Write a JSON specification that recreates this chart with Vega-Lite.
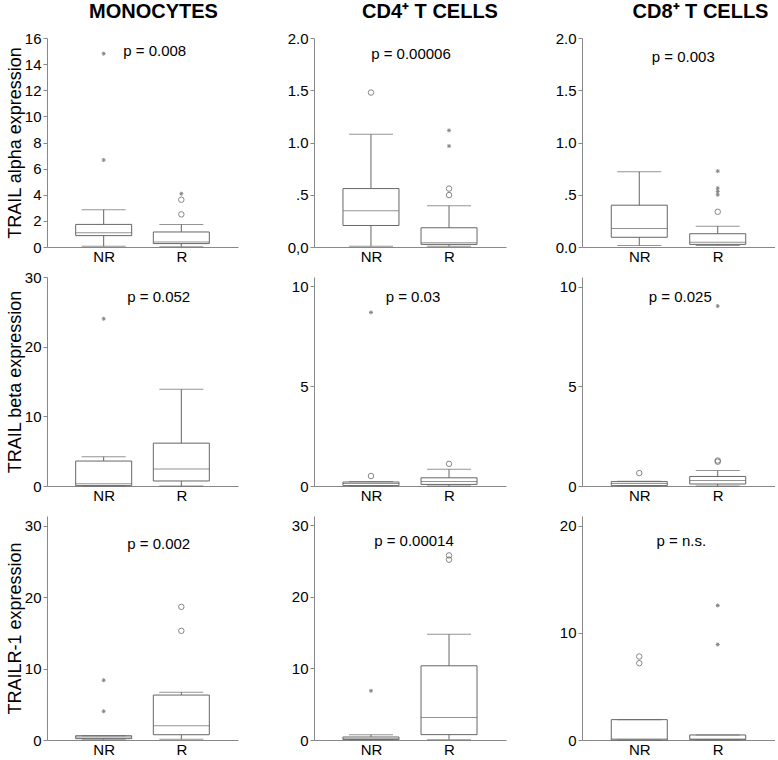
{
"$schema":"https://vega.github.io/schema/vega-lite/v6.json",
"background":"white",
"padding":{"left":6,"top":2,"right":0,"bottom":0},
"datasets":{
"boxes":[
{"panel":"A","g":"NR","lo":0.05,"q1":0.87,"med":1.10,"q3":1.73,"hi":2.86},
{"panel":"A","g":"R","lo":0.02,"q1":0.26,"med":0.38,"q3":1.15,"hi":1.73},
{"panel":"B","g":"NR","lo":0.006,"q1":0.206,"med":0.347,"q3":0.559,"hi":1.078},
{"panel":"B","g":"R","lo":0.006,"q1":0.025,"med":0.041,"q3":0.184,"hi":0.394},
{"panel":"C","g":"NR","lo":0.015,"q1":0.093,"med":0.176,"q3":0.40,"hi":0.72},
{"panel":"C","g":"R","lo":0.015,"q1":0.025,"med":0.046,"q3":0.127,"hi":0.198},
{"panel":"D","g":"NR","lo":0,"q1":0.05,"med":0.33,"q3":3.58,"hi":4.2},
{"panel":"D","g":"R","lo":0,"q1":0.72,"med":2.43,"q3":6.15,"hi":13.9},
{"panel":"E","g":"NR","lo":0,"q1":0.02,"med":0.12,"q3":0.2,"hi":0.22},
{"panel":"E","g":"R","lo":0,"q1":0.08,"med":0.23,"q3":0.41,"hi":0.84},
{"panel":"F","g":"NR","lo":0,"q1":0.02,"med":0.13,"q3":0.22,"hi":0.24},
{"panel":"F","g":"R","lo":0,"q1":0.1,"med":0.28,"q3":0.48,"hi":0.78},
{"panel":"G","g":"NR","lo":0.05,"q1":0.19,"med":0.42,"q3":0.6,"hi":0.6},
{"panel":"G","g":"R","lo":0.09,"q1":0.74,"med":1.99,"q3":6.30,"hi":6.71},
{"panel":"H","g":"NR","lo":0.02,"q1":0.05,"med":0.19,"q3":0.42,"hi":0.75},
{"panel":"H","g":"R","lo":0.05,"q1":0.75,"med":3.13,"q3":10.37,"hi":14.77},
{"panel":"I","g":"NR","lo":0,"q1":0,"med":0.09,"q3":1.9,"hi":1.9},
{"panel":"I","g":"R","lo":0,"q1":0.03,"med":0.09,"q3":0.47,"hi":0.47}
],
"outs":[
{"panel":"A","g":"NR","v":14.8,"kind":"star"},
{"panel":"A","g":"NR","v":6.66,"kind":"star"},
{"panel":"A","g":"R","v":4.08,"kind":"star"},
{"panel":"A","g":"R","v":3.62,"kind":"circle"},
{"panel":"A","g":"R","v":2.5,"kind":"circle"},
{"panel":"B","g":"NR","v":1.478,"kind":"circle"},
{"panel":"B","g":"R","v":1.116,"kind":"star"},
{"panel":"B","g":"R","v":0.966,"kind":"star"},
{"panel":"B","g":"R","v":0.559,"kind":"circle"},
{"panel":"B","g":"R","v":0.497,"kind":"circle"},
{"panel":"C","g":"R","v":0.726,"kind":"star"},
{"panel":"C","g":"R","v":0.563,"kind":"star"},
{"panel":"C","g":"R","v":0.532,"kind":"star"},
{"panel":"C","g":"R","v":0.50,"kind":"star"},
{"panel":"C","g":"R","v":0.337,"kind":"circle"},
{"panel":"D","g":"NR","v":24.0,"kind":"star"},
{"panel":"E","g":"NR","v":0.5,"kind":"circle"},
{"panel":"E","g":"NR","v":8.68,"kind":"star"},
{"panel":"E","g":"R","v":1.11,"kind":"circle"},
{"panel":"F","g":"NR","v":0.65,"kind":"circle"},
{"panel":"F","g":"R","v":1.22,"kind":"circle"},
{"panel":"F","g":"R","v":1.28,"kind":"circle"},
{"panel":"F","g":"R","v":9.04,"kind":"star"},
{"panel":"G","g":"NR","v":8.38,"kind":"star"},
{"panel":"G","g":"NR","v":4.03,"kind":"star"},
{"panel":"G","g":"R","v":18.66,"kind":"circle"},
{"panel":"G","g":"R","v":15.3,"kind":"circle"},
{"panel":"H","g":"NR","v":6.87,"kind":"star"},
{"panel":"H","g":"R","v":25.8,"kind":"circle"},
{"panel":"H","g":"R","v":25.2,"kind":"circle"},
{"panel":"I","g":"NR","v":7.79,"kind":"circle"},
{"panel":"I","g":"NR","v":7.17,"kind":"circle"},
{"panel":"I","g":"R","v":12.55,"kind":"star"},
{"panel":"I","g":"R","v":8.91,"kind":"star"}
],
"pv":[
{"panel":"A","label":"p = 0.008"},
{"panel":"B","label":"p = 0.00006"},
{"panel":"C","label":"p = 0.003"},
{"panel":"D","label":"p = 0.052"},
{"panel":"E","label":"p = 0.03"},
{"panel":"F","label":"p = 0.025"},
{"panel":"G","label":"p = 0.002"},
{"panel":"H","label":"p = 0.00014"},
{"panel":"I","label":"p = n.s."}
]
},
"columns":3,
"spacing":{"row":30,"column":76},
"bounds":"flush",
"align":"each",
"concat":[
{"width":191,"height":209,
 "title":{"text":"MONOCYTES","dx":11,"fontSize":20,"fontWeight":"bold","offset":9,"anchor":"middle"},
 "layer":[
 {"data":{"name":"boxes"},"transform":[{"filter":"datum.panel=='A'"}],"mark":{"type":"rule","color":"#666"},
  "encoding":{"x":{"field":"g","type":"nominal","scale":{"type":"point","domain":["NR","R"],"padding":0.73},"axis":{"title":null,"ticks":false,"labelAngle":0,"labelFontSize":15,"labelPadding":2}},
   "y":{"field":"lo","type":"quantitative","scale":{"domain":[0,16],"nice":false,"zero":false},"axis":{"values":[0,2,4,6,8,10,12,14,16],"tickCount":9,"labelOverlap":false,"labelBound":false,"labelSeparation":0,"title":"TRAIL alpha expression","titlePadding":0,"minExtent":23,"maxExtent":23}},"y2":{"field":"hi"}}},
 {"data":{"name":"boxes"},"transform":[{"filter":"datum.panel=='A'"}],"mark":{"type":"bar","fill":"white","stroke":"#666","strokeWidth":1,"size":56},
  "encoding":{"x":{"field":"g","type":"nominal"},"y":{"field":"q1","type":"quantitative","title":"TRAIL alpha expression","axis":{"values":[0,2,4,6,8,10,12,14,16],"labelOverlap":false}},"y2":{"field":"q3"}}},
 {"data":{"name":"boxes"},"transform":[{"filter":"datum.panel=='A'"}],"mark":{"type":"tick","color":"#666","size":56,"thickness":1},
  "encoding":{"x":{"field":"g","type":"nominal"},"y":{"field":"med","type":"quantitative","title":"TRAIL alpha expression","axis":{"values":[0,2,4,6,8,10,12,14,16],"labelOverlap":false}}}},
 {"data":{"name":"boxes"},"transform":[{"filter":"datum.panel=='A'"}],"mark":{"type":"tick","color":"#666","size":44,"thickness":1},
  "encoding":{"x":{"field":"g","type":"nominal"},"y":{"field":"lo","type":"quantitative","title":"TRAIL alpha expression","axis":{"values":[0,2,4,6,8,10,12,14,16],"labelOverlap":false}}}},
 {"data":{"name":"boxes"},"transform":[{"filter":"datum.panel=='A'"}],"mark":{"type":"tick","color":"#666","size":44,"thickness":1},
  "encoding":{"x":{"field":"g","type":"nominal"},"y":{"field":"hi","type":"quantitative","title":"TRAIL alpha expression","axis":{"values":[0,2,4,6,8,10,12,14,16],"labelOverlap":false}}}},
 {"data":{"name":"outs"},"transform":[{"filter":"datum.panel=='A'"}],"mark":{"type":"point","filled":false,"stroke":"#555","strokeWidth":1},
  "encoding":{"x":{"field":"g","type":"nominal"},"y":{"field":"v","type":"quantitative","title":"TRAIL alpha expression","axis":{"values":[0,2,4,6,8,10,12,14,16],"labelOverlap":false}},
   "shape":{"field":"kind","type":"nominal","scale":{"domain":["circle","star"],"range":["circle","M-1,0L1,0M0,-1L0,1M-0.7,-0.7L0.7,0.7M-0.7,0.7L0.7,-0.7"]},"legend":null},
   "size":{"field":"kind","type":"nominal","scale":{"domain":["circle","star"],"range":[30,16]},"legend":null}}},
 {"data":{"name":"pv"},"transform":[{"filter":"datum.panel=='A'"}],"mark":{"type":"text","fontSize":15,"dx":51,"color":"#000"},
  "encoding":{"x":{"datum":"NR","type":"nominal"},"y":{"datum":15.0,"type":"quantitative","title":"TRAIL alpha expression","axis":{"values":[0,2,4,6,8,10,12,14,16],"labelOverlap":false}},"text":{"field":"label"}}}
 ]},
{"width":192,"height":209,
 "title":{"text":"CD4⁺ T CELLS","dx":20,"fontSize":20,"fontWeight":"bold","offset":9,"anchor":"middle"},
 "layer":[
 {"data":{"name":"boxes"},"transform":[{"filter":"datum.panel=='B'"}],"mark":{"type":"rule","color":"#666"},
  "encoding":{"x":{"field":"g","type":"nominal","scale":{"type":"point","domain":["NR","R"],"padding":0.73},"axis":{"title":null,"ticks":false,"labelAngle":0,"labelFontSize":15,"labelPadding":2}},
   "y":{"field":"lo","type":"quantitative","scale":{"domain":[0,2],"nice":false,"zero":false},"axis":{"values":[0,0.5,1,1.5,2],"labelOverlap":false,"labelExpr":"datum.value==0?'0,0':datum.value==0.5?'.5':format(datum.value,'.1f')","title":null}},"y2":{"field":"hi"}}},
 {"data":{"name":"boxes"},"transform":[{"filter":"datum.panel=='B'"}],"mark":{"type":"bar","fill":"white","stroke":"#666","strokeWidth":1,"size":56},
  "encoding":{"x":{"field":"g","type":"nominal"},"y":{"field":"q1","type":"quantitative","title":null},"y2":{"field":"q3"}}},
 {"data":{"name":"boxes"},"transform":[{"filter":"datum.panel=='B'"}],"mark":{"type":"tick","color":"#666","size":56,"thickness":1},
  "encoding":{"x":{"field":"g","type":"nominal"},"y":{"field":"med","type":"quantitative","title":null}}},
 {"data":{"name":"boxes"},"transform":[{"filter":"datum.panel=='B'"}],"mark":{"type":"tick","color":"#666","size":44,"thickness":1},
  "encoding":{"x":{"field":"g","type":"nominal"},"y":{"field":"lo","type":"quantitative","title":null}}},
 {"data":{"name":"boxes"},"transform":[{"filter":"datum.panel=='B'"}],"mark":{"type":"tick","color":"#666","size":44,"thickness":1},
  "encoding":{"x":{"field":"g","type":"nominal"},"y":{"field":"hi","type":"quantitative","title":null}}},
 {"data":{"name":"outs"},"transform":[{"filter":"datum.panel=='B'"}],"mark":{"type":"point","filled":false,"stroke":"#555","strokeWidth":1},
  "encoding":{"x":{"field":"g","type":"nominal"},"y":{"field":"v","type":"quantitative","title":null},
   "shape":{"field":"kind","type":"nominal","scale":{"domain":["circle","star"],"range":["circle","M-1,0L1,0M0,-1L0,1M-0.7,-0.7L0.7,0.7M-0.7,0.7L0.7,-0.7"]},"legend":null},
   "size":{"field":"kind","type":"nominal","scale":{"domain":["circle","star"],"range":[30,16]},"legend":null}}},
 {"data":{"name":"pv"},"transform":[{"filter":"datum.panel=='B'"}],"mark":{"type":"text","fontSize":15,"dx":40,"color":"#000"},
  "encoding":{"x":{"datum":"NR","type":"nominal"},"y":{"datum":1.85,"type":"quantitative","title":null},"text":{"field":"label"}}}
 ]},
{"width":193,"height":209,
 "title":{"text":"CD8⁺ T CELLS","dx":22,"fontSize":20,"fontWeight":"bold","offset":9,"anchor":"middle"},
 "layer":[
 {"data":{"name":"boxes"},"transform":[{"filter":"datum.panel=='C'"}],"mark":{"type":"rule","color":"#666"},
  "encoding":{"x":{"field":"g","type":"nominal","scale":{"type":"point","domain":["NR","R"],"padding":0.73},"axis":{"title":null,"ticks":false,"labelAngle":0,"labelFontSize":15,"labelPadding":2}},
   "y":{"field":"lo","type":"quantitative","scale":{"domain":[0,2],"nice":false,"zero":false},"axis":{"values":[0,0.5,1,1.5,2],"labelOverlap":false,"labelExpr":"datum.value==0.5?'.5':format(datum.value,'.1f')","title":null}},"y2":{"field":"hi"}}},
 {"data":{"name":"boxes"},"transform":[{"filter":"datum.panel=='C'"}],"mark":{"type":"bar","fill":"white","stroke":"#666","strokeWidth":1,"size":56},
  "encoding":{"x":{"field":"g","type":"nominal"},"y":{"field":"q1","type":"quantitative","title":null},"y2":{"field":"q3"}}},
 {"data":{"name":"boxes"},"transform":[{"filter":"datum.panel=='C'"}],"mark":{"type":"tick","color":"#666","size":56,"thickness":1},
  "encoding":{"x":{"field":"g","type":"nominal"},"y":{"field":"med","type":"quantitative","title":null}}},
 {"data":{"name":"boxes"},"transform":[{"filter":"datum.panel=='C'"}],"mark":{"type":"tick","color":"#666","size":44,"thickness":1},
  "encoding":{"x":{"field":"g","type":"nominal"},"y":{"field":"lo","type":"quantitative","title":null}}},
 {"data":{"name":"boxes"},"transform":[{"filter":"datum.panel=='C'"}],"mark":{"type":"tick","color":"#666","size":44,"thickness":1},
  "encoding":{"x":{"field":"g","type":"nominal"},"y":{"field":"hi","type":"quantitative","title":null}}},
 {"data":{"name":"outs"},"transform":[{"filter":"datum.panel=='C'"}],"mark":{"type":"point","filled":false,"stroke":"#555","strokeWidth":1},
  "encoding":{"x":{"field":"g","type":"nominal"},"y":{"field":"v","type":"quantitative","title":null},
   "shape":{"field":"kind","type":"nominal","scale":{"domain":["circle","star"],"range":["circle","M-1,0L1,0M0,-1L0,1M-0.7,-0.7L0.7,0.7M-0.7,0.7L0.7,-0.7"]},"legend":null},
   "size":{"field":"kind","type":"nominal","scale":{"domain":["circle","star"],"range":[30,16]},"legend":null}}},
 {"data":{"name":"pv"},"transform":[{"filter":"datum.panel=='C'"}],"mark":{"type":"text","fontSize":15,"dx":44,"color":"#000"},
  "encoding":{"x":{"datum":"NR","type":"nominal"},"y":{"datum":1.82,"type":"quantitative","title":null},"text":{"field":"label"}}}
 ]},
{"width":191,"height":209,
 "layer":[
 {"data":{"name":"boxes"},"transform":[{"filter":"datum.panel=='D'"}],"mark":{"type":"rule","color":"#666"},
  "encoding":{"x":{"field":"g","type":"nominal","scale":{"type":"point","domain":["NR","R"],"padding":0.73},"axis":{"title":null,"ticks":false,"labelAngle":0,"labelFontSize":15,"labelPadding":2}},
   "y":{"field":"lo","type":"quantitative","scale":{"domain":[0,30],"nice":false,"zero":false},"axis":{"values":[0,10,20,30],"labelOverlap":false,"title":"TRAIL beta expression","titlePadding":0,"minExtent":23,"maxExtent":23}},"y2":{"field":"hi"}}},
 {"data":{"name":"boxes"},"transform":[{"filter":"datum.panel=='D'"}],"mark":{"type":"bar","fill":"white","stroke":"#666","strokeWidth":1,"size":56},
  "encoding":{"x":{"field":"g","type":"nominal"},"y":{"field":"q1","type":"quantitative","title":"TRAIL beta expression"},"y2":{"field":"q3"}}},
 {"data":{"name":"boxes"},"transform":[{"filter":"datum.panel=='D'"}],"mark":{"type":"tick","color":"#666","size":56,"thickness":1},
  "encoding":{"x":{"field":"g","type":"nominal"},"y":{"field":"med","type":"quantitative","title":"TRAIL beta expression"}}},
 {"data":{"name":"boxes"},"transform":[{"filter":"datum.panel=='D'"}],"mark":{"type":"tick","color":"#666","size":44,"thickness":1},
  "encoding":{"x":{"field":"g","type":"nominal"},"y":{"field":"lo","type":"quantitative","title":"TRAIL beta expression"}}},
 {"data":{"name":"boxes"},"transform":[{"filter":"datum.panel=='D'"}],"mark":{"type":"tick","color":"#666","size":44,"thickness":1},
  "encoding":{"x":{"field":"g","type":"nominal"},"y":{"field":"hi","type":"quantitative","title":"TRAIL beta expression"}}},
 {"data":{"name":"outs"},"transform":[{"filter":"datum.panel=='D'"}],"mark":{"type":"point","filled":false,"stroke":"#555","strokeWidth":1},
  "encoding":{"x":{"field":"g","type":"nominal"},"y":{"field":"v","type":"quantitative","title":"TRAIL beta expression"},
   "shape":{"field":"kind","type":"nominal","scale":{"domain":["circle","star"],"range":["circle","M-1,0L1,0M0,-1L0,1M-0.7,-0.7L0.7,0.7M-0.7,0.7L0.7,-0.7"]},"legend":null},
   "size":{"field":"kind","type":"nominal","scale":{"domain":["circle","star"],"range":[30,16]},"legend":null}}},
 {"data":{"name":"pv"},"transform":[{"filter":"datum.panel=='D'"}],"mark":{"type":"text","fontSize":15,"dx":55,"color":"#000"},
  "encoding":{"x":{"datum":"NR","type":"nominal"},"y":{"datum":27.1,"type":"quantitative","title":"TRAIL beta expression"},"text":{"field":"label"}}}
 ]},
{"width":192,"height":209,
 "layer":[
 {"data":{"name":"boxes"},"transform":[{"filter":"datum.panel=='E'"}],"mark":{"type":"rule","color":"#666"},
  "encoding":{"x":{"field":"g","type":"nominal","scale":{"type":"point","domain":["NR","R"],"padding":0.73},"axis":{"title":null,"ticks":false,"labelAngle":0,"labelFontSize":15,"labelPadding":2}},
   "y":{"field":"lo","type":"quantitative","scale":{"domain":[0,10.45],"nice":false,"zero":false},"axis":{"values":[0,5,10],"labelOverlap":false,"title":null}},"y2":{"field":"hi"}}},
 {"data":{"name":"boxes"},"transform":[{"filter":"datum.panel=='E'"}],"mark":{"type":"bar","fill":"white","stroke":"#666","strokeWidth":1,"size":56},
  "encoding":{"x":{"field":"g","type":"nominal"},"y":{"field":"q1","type":"quantitative","title":null},"y2":{"field":"q3"}}},
 {"data":{"name":"boxes"},"transform":[{"filter":"datum.panel=='E'"}],"mark":{"type":"tick","color":"#666","size":56,"thickness":1},
  "encoding":{"x":{"field":"g","type":"nominal"},"y":{"field":"med","type":"quantitative","title":null}}},
 {"data":{"name":"boxes"},"transform":[{"filter":"datum.panel=='E'"}],"mark":{"type":"tick","color":"#666","size":44,"thickness":1},
  "encoding":{"x":{"field":"g","type":"nominal"},"y":{"field":"lo","type":"quantitative","title":null}}},
 {"data":{"name":"boxes"},"transform":[{"filter":"datum.panel=='E'"}],"mark":{"type":"tick","color":"#666","size":44,"thickness":1},
  "encoding":{"x":{"field":"g","type":"nominal"},"y":{"field":"hi","type":"quantitative","title":null}}},
 {"data":{"name":"outs"},"transform":[{"filter":"datum.panel=='E'"}],"mark":{"type":"point","filled":false,"stroke":"#555","strokeWidth":1},
  "encoding":{"x":{"field":"g","type":"nominal"},"y":{"field":"v","type":"quantitative","title":null},
   "shape":{"field":"kind","type":"nominal","scale":{"domain":["circle","star"],"range":["circle","M-1,0L1,0M0,-1L0,1M-0.7,-0.7L0.7,0.7M-0.7,0.7L0.7,-0.7"]},"legend":null},
   "size":{"field":"kind","type":"nominal","scale":{"domain":["circle","star"],"range":[30,16]},"legend":null}}},
 {"data":{"name":"pv"},"transform":[{"filter":"datum.panel=='E'"}],"mark":{"type":"text","fontSize":15,"dx":42,"color":"#000"},
  "encoding":{"x":{"datum":"NR","type":"nominal"},"y":{"datum":9.45,"type":"quantitative","title":null},"text":{"field":"label"}}}
 ]},
{"width":193,"height":209,
 "layer":[
 {"data":{"name":"boxes"},"transform":[{"filter":"datum.panel=='F'"}],"mark":{"type":"rule","color":"#666"},
  "encoding":{"x":{"field":"g","type":"nominal","scale":{"type":"point","domain":["NR","R"],"padding":0.73},"axis":{"title":null,"ticks":false,"labelAngle":0,"labelFontSize":15,"labelPadding":2}},
   "y":{"field":"lo","type":"quantitative","scale":{"domain":[0,10.5],"nice":false,"zero":false},"axis":{"values":[0,5,10],"labelOverlap":false,"title":null}},"y2":{"field":"hi"}}},
 {"data":{"name":"boxes"},"transform":[{"filter":"datum.panel=='F'"}],"mark":{"type":"bar","fill":"white","stroke":"#666","strokeWidth":1,"size":56},
  "encoding":{"x":{"field":"g","type":"nominal"},"y":{"field":"q1","type":"quantitative","title":null},"y2":{"field":"q3"}}},
 {"data":{"name":"boxes"},"transform":[{"filter":"datum.panel=='F'"}],"mark":{"type":"tick","color":"#666","size":56,"thickness":1},
  "encoding":{"x":{"field":"g","type":"nominal"},"y":{"field":"med","type":"quantitative","title":null}}},
 {"data":{"name":"boxes"},"transform":[{"filter":"datum.panel=='F'"}],"mark":{"type":"tick","color":"#666","size":44,"thickness":1},
  "encoding":{"x":{"field":"g","type":"nominal"},"y":{"field":"lo","type":"quantitative","title":null}}},
 {"data":{"name":"boxes"},"transform":[{"filter":"datum.panel=='F'"}],"mark":{"type":"tick","color":"#666","size":44,"thickness":1},
  "encoding":{"x":{"field":"g","type":"nominal"},"y":{"field":"hi","type":"quantitative","title":null}}},
 {"data":{"name":"outs"},"transform":[{"filter":"datum.panel=='F'"}],"mark":{"type":"point","filled":false,"stroke":"#555","strokeWidth":1},
  "encoding":{"x":{"field":"g","type":"nominal"},"y":{"field":"v","type":"quantitative","title":null},
   "shape":{"field":"kind","type":"nominal","scale":{"domain":["circle","star"],"range":["circle","M-1,0L1,0M0,-1L0,1M-0.7,-0.7L0.7,0.7M-0.7,0.7L0.7,-0.7"]},"legend":null},
   "size":{"field":"kind","type":"nominal","scale":{"domain":["circle","star"],"range":[30,16]},"legend":null}}},
 {"data":{"name":"pv"},"transform":[{"filter":"datum.panel=='F'"}],"mark":{"type":"text","fontSize":15,"dx":41,"color":"#000"},
  "encoding":{"x":{"datum":"NR","type":"nominal"},"y":{"datum":9.5,"type":"quantitative","title":null},"text":{"field":"label"}}}
 ]},
{"width":191,"height":224,
 "layer":[
 {"data":{"name":"boxes"},"transform":[{"filter":"datum.panel=='G'"}],"mark":{"type":"rule","color":"#666"},
  "encoding":{"x":{"field":"g","type":"nominal","scale":{"type":"point","domain":["NR","R"],"padding":0.73},"axis":{"title":null,"ticks":false,"labelAngle":0,"labelFontSize":15,"labelPadding":2}},
   "y":{"field":"lo","type":"quantitative","scale":{"domain":[0,31.4],"nice":false,"zero":false},"axis":{"values":[0,10,20,30],"labelOverlap":false,"title":"TRAILR-1 expression","titlePadding":0,"minExtent":23,"maxExtent":23}},"y2":{"field":"hi"}}},
 {"data":{"name":"boxes"},"transform":[{"filter":"datum.panel=='G'"}],"mark":{"type":"bar","fill":"white","stroke":"#666","strokeWidth":1,"size":56},
  "encoding":{"x":{"field":"g","type":"nominal"},"y":{"field":"q1","type":"quantitative","title":"TRAILR-1 expression"},"y2":{"field":"q3"}}},
 {"data":{"name":"boxes"},"transform":[{"filter":"datum.panel=='G'"}],"mark":{"type":"tick","color":"#666","size":56,"thickness":1},
  "encoding":{"x":{"field":"g","type":"nominal"},"y":{"field":"med","type":"quantitative","title":"TRAILR-1 expression"}}},
 {"data":{"name":"boxes"},"transform":[{"filter":"datum.panel=='G'"}],"mark":{"type":"tick","color":"#666","size":44,"thickness":1},
  "encoding":{"x":{"field":"g","type":"nominal"},"y":{"field":"lo","type":"quantitative","title":"TRAILR-1 expression"}}},
 {"data":{"name":"boxes"},"transform":[{"filter":"datum.panel=='G'"}],"mark":{"type":"tick","color":"#666","size":44,"thickness":1},
  "encoding":{"x":{"field":"g","type":"nominal"},"y":{"field":"hi","type":"quantitative","title":"TRAILR-1 expression"}}},
 {"data":{"name":"outs"},"transform":[{"filter":"datum.panel=='G'"}],"mark":{"type":"point","filled":false,"stroke":"#555","strokeWidth":1},
  "encoding":{"x":{"field":"g","type":"nominal"},"y":{"field":"v","type":"quantitative","title":"TRAILR-1 expression"},
   "shape":{"field":"kind","type":"nominal","scale":{"domain":["circle","star"],"range":["circle","M-1,0L1,0M0,-1L0,1M-0.7,-0.7L0.7,0.7M-0.7,0.7L0.7,-0.7"]},"legend":null},
   "size":{"field":"kind","type":"nominal","scale":{"domain":["circle","star"],"range":[30,16]},"legend":null}}},
 {"data":{"name":"pv"},"transform":[{"filter":"datum.panel=='G'"}],"mark":{"type":"text","fontSize":15,"dx":55,"color":"#000"},
  "encoding":{"x":{"datum":"NR","type":"nominal"},"y":{"datum":27.5,"type":"quantitative","title":"TRAILR-1 expression"},"text":{"field":"label"}}}
 ]},
{"width":192,"height":224,
 "layer":[
 {"data":{"name":"boxes"},"transform":[{"filter":"datum.panel=='H'"}],"mark":{"type":"rule","color":"#666"},
  "encoding":{"x":{"field":"g","type":"nominal","scale":{"type":"point","domain":["NR","R"],"padding":0.73},"axis":{"title":null,"ticks":false,"labelAngle":0,"labelFontSize":15,"labelPadding":2}},
   "y":{"field":"lo","type":"quantitative","scale":{"domain":[0,31.3],"nice":false,"zero":false},"axis":{"values":[0,10,20,30],"labelOverlap":false,"title":null}},"y2":{"field":"hi"}}},
 {"data":{"name":"boxes"},"transform":[{"filter":"datum.panel=='H'"}],"mark":{"type":"bar","fill":"white","stroke":"#666","strokeWidth":1,"size":56},
  "encoding":{"x":{"field":"g","type":"nominal"},"y":{"field":"q1","type":"quantitative","title":null},"y2":{"field":"q3"}}},
 {"data":{"name":"boxes"},"transform":[{"filter":"datum.panel=='H'"}],"mark":{"type":"tick","color":"#666","size":56,"thickness":1},
  "encoding":{"x":{"field":"g","type":"nominal"},"y":{"field":"med","type":"quantitative","title":null}}},
 {"data":{"name":"boxes"},"transform":[{"filter":"datum.panel=='H'"}],"mark":{"type":"tick","color":"#666","size":44,"thickness":1},
  "encoding":{"x":{"field":"g","type":"nominal"},"y":{"field":"lo","type":"quantitative","title":null}}},
 {"data":{"name":"boxes"},"transform":[{"filter":"datum.panel=='H'"}],"mark":{"type":"tick","color":"#666","size":44,"thickness":1},
  "encoding":{"x":{"field":"g","type":"nominal"},"y":{"field":"hi","type":"quantitative","title":null}}},
 {"data":{"name":"outs"},"transform":[{"filter":"datum.panel=='H'"}],"mark":{"type":"point","filled":false,"stroke":"#555","strokeWidth":1},
  "encoding":{"x":{"field":"g","type":"nominal"},"y":{"field":"v","type":"quantitative","title":null},
   "shape":{"field":"kind","type":"nominal","scale":{"domain":["circle","star"],"range":["circle","M-1,0L1,0M0,-1L0,1M-0.7,-0.7L0.7,0.7M-0.7,0.7L0.7,-0.7"]},"legend":null},
   "size":{"field":"kind","type":"nominal","scale":{"domain":["circle","star"],"range":[30,16]},"legend":null}}},
 {"data":{"name":"pv"},"transform":[{"filter":"datum.panel=='H'"}],"mark":{"type":"text","fontSize":15,"dx":43,"color":"#000"},
  "encoding":{"x":{"datum":"NR","type":"nominal"},"y":{"datum":27.8,"type":"quantitative","title":null},"text":{"field":"label"}}}
 ]},
{"width":193,"height":224,
 "layer":[
 {"data":{"name":"boxes"},"transform":[{"filter":"datum.panel=='I'"}],"mark":{"type":"rule","color":"#666"},
  "encoding":{"x":{"field":"g","type":"nominal","scale":{"type":"point","domain":["NR","R"],"padding":0.73},"axis":{"title":null,"ticks":false,"labelAngle":0,"labelFontSize":15,"labelPadding":2}},
   "y":{"field":"lo","type":"quantitative","scale":{"domain":[0,20.9],"nice":false,"zero":false},"axis":{"values":[0,10,20],"labelOverlap":false,"title":null}},"y2":{"field":"hi"}}},
 {"data":{"name":"boxes"},"transform":[{"filter":"datum.panel=='I'"}],"mark":{"type":"bar","fill":"white","stroke":"#666","strokeWidth":1,"size":56},
  "encoding":{"x":{"field":"g","type":"nominal"},"y":{"field":"q1","type":"quantitative","title":null},"y2":{"field":"q3"}}},
 {"data":{"name":"boxes"},"transform":[{"filter":"datum.panel=='I'"}],"mark":{"type":"tick","color":"#666","size":56,"thickness":1},
  "encoding":{"x":{"field":"g","type":"nominal"},"y":{"field":"med","type":"quantitative","title":null}}},
 {"data":{"name":"boxes"},"transform":[{"filter":"datum.panel=='I'"}],"mark":{"type":"tick","color":"#666","size":44,"thickness":1},
  "encoding":{"x":{"field":"g","type":"nominal"},"y":{"field":"lo","type":"quantitative","title":null}}},
 {"data":{"name":"boxes"},"transform":[{"filter":"datum.panel=='I'"}],"mark":{"type":"tick","color":"#666","size":44,"thickness":1},
  "encoding":{"x":{"field":"g","type":"nominal"},"y":{"field":"hi","type":"quantitative","title":null}}},
 {"data":{"name":"outs"},"transform":[{"filter":"datum.panel=='I'"}],"mark":{"type":"point","filled":false,"stroke":"#555","strokeWidth":1},
  "encoding":{"x":{"field":"g","type":"nominal"},"y":{"field":"v","type":"quantitative","title":null},
   "shape":{"field":"kind","type":"nominal","scale":{"domain":["circle","star"],"range":["circle","M-1,0L1,0M0,-1L0,1M-0.7,-0.7L0.7,0.7M-0.7,0.7L0.7,-0.7"]},"legend":null},
   "size":{"field":"kind","type":"nominal","scale":{"domain":["circle","star"],"range":[30,16]},"legend":null}}},
 {"data":{"name":"pv"},"transform":[{"filter":"datum.panel=='I'"}],"mark":{"type":"text","fontSize":15,"dx":42,"color":"#000"},
  "encoding":{"x":{"datum":"NR","type":"nominal"},"y":{"datum":18.6,"type":"quantitative","title":null},"text":{"field":"label"}}}
 ]}
],
"config":{
 "font":"Liberation Sans",
 "view":{"stroke":null},
 "axis":{"domainColor":"#888","tickColor":"#888","labelColor":"#000","grid":false,"labelFontSize":15,"titleFontSize":18,"titleFontWeight":"normal","titleColor":"#000","labelFont":"Liberation Sans","titleFont":"Liberation Sans"},
 "axisY":{"tickSize":4,"labelPadding":2,"labelOverlap":false},
 "title":{"font":"Liberation Sans","color":"#000"}
}
}
